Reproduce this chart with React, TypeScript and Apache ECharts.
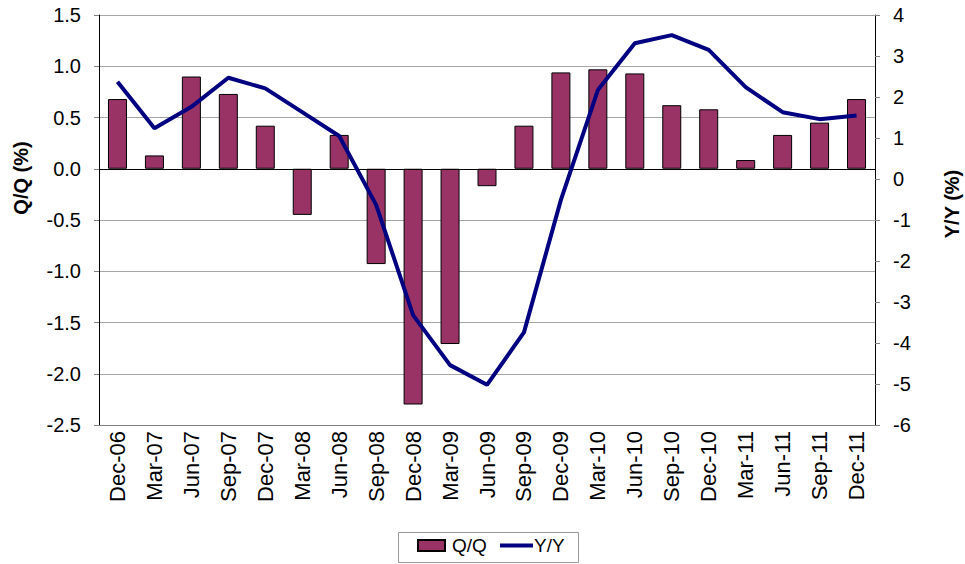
import React, { useEffect, useRef } from "react";
import * as echarts from "echarts";

const categories = [
  "Dec-06", "Mar-07", "Jun-07", "Sep-07", "Dec-07", "Mar-08", "Jun-08", "Sep-08",
  "Dec-08", "Mar-09", "Jun-09", "Sep-09", "Dec-09", "Mar-10", "Jun-10", "Sep-10",
  "Dec-10", "Mar-11", "Jun-11", "Sep-11", "Dec-11",
];
const qqValues = [
  0.68, 0.13, 0.9, 0.73, 0.42, -0.45, 0.33, -0.93, -2.3, -1.71, -0.17, 0.42, 0.94,
  0.97, 0.93, 0.62, 0.58, 0.085, 0.33, 0.45, 0.68,
];
const yyValues = [
  2.37, 1.24, 1.76, 2.47, 2.21, 1.63, 1.05, -0.63, -3.32, -4.54, -5.02, -3.74, -0.51,
  2.17, 3.31, 3.51, 3.15, 2.24, 1.63, 1.46, 1.55,
];
const leftTitle = "Q/Q (%)";
const rightTitle = "Y/Y (%)";

const FONT = "'Liberation Sans', Arial, sans-serif";

export default function App() {
  const ref = useRef<HTMLDivElement>(null);
  useEffect(() => {
    if (!ref.current) return;
    const chart = echarts.init(ref.current, undefined, { renderer: "svg" });
    const legendText = { fontSize: 19, color: "#000", fontFamily: FONT };
    chart.setOption({
      animation: false,
      textStyle: { fontFamily: FONT },
      grid: { left: 99, right: 90, top: 15, bottom: 139, containLabel: false },
      legend: [
        {
          left: 417,
          top: 536,
          padding: 0,
          itemWidth: 27,
          itemHeight: 11,
          itemGap: 0,
          textStyle: { ...legendText, padding: [0, 0, 0, 2] },
          data: [{ name: "Q/Q", icon: "rect" }],
        },
        {
          left: 500,
          top: 536,
          padding: 0,
          itemWidth: 33,
          itemHeight: 4,
          itemGap: 0,
          textStyle: { ...legendText, padding: [0, 0, 0, -4] },
          data: [{ name: "Y/Y", icon: "rect", itemStyle: { color: "#000080", borderWidth: 0 } }],
        },
      ],
      graphic: [
        {
          type: "rect",
          shape: { x: 398.5, y: 532.5, width: 180, height: 30 },
          style: { fill: "none", stroke: "#999", lineWidth: 1 },
          silent: true,
        },
        {
          type: "text",
          x: 21,
          y: 178,
          rotation: Math.PI / 2,
          style: {
            text: leftTitle,
            fontSize: 20,
            fontWeight: "bold",
            fontFamily: FONT,
            fill: "#000",
            align: "center",
            verticalAlign: "middle",
          },
        },
        {
          type: "text",
          x: 952,
          y: 204,
          rotation: Math.PI / 2,
          style: {
            text: rightTitle,
            fontSize: 20,
            fontWeight: "bold",
            fontFamily: FONT,
            fill: "#000",
            align: "center",
            verticalAlign: "middle",
          },
        },
      ],
      xAxis: {
        type: "category",
        data: categories,
        boundaryGap: true,
        axisLine: { onZero: false, lineStyle: { color: "#808080", width: 1 } },
        axisTick: { show: false },
        axisLabel: {
          rotate: 90,
          fontSize: 22,
          color: "#000",
          fontFamily: FONT,
          margin: 6,
          interval: 0,
        },
      },
      yAxis: [
        {
          type: "value",
          min: -2.5,
          max: 1.5,
          interval: 0.5,
          axisLine: { show: true, lineStyle: { color: "#000", width: 1 } },
          axisTick: { show: true, length: 5, lineStyle: { color: "#808080" } },
          axisLabel: {
            fontSize: 20,
            color: "#000",
            fontFamily: FONT,
            margin: 18,
            formatter: (v: number) => v.toFixed(1),
          },
          splitLine: { show: true, lineStyle: { color: "#a6a6a6", width: 1 } },
        },
        {
          type: "value",
          min: -6,
          max: 4,
          interval: 1,
          position: "right",
          axisLine: { show: true, lineStyle: { color: "#000", width: 1 } },
          axisTick: { show: true, length: 5, lineStyle: { color: "#808080" } },
          axisLabel: { fontSize: 20, color: "#000", fontFamily: FONT, margin: 18 },
          splitLine: { show: false },
        },
      ],
      series: [
        {
          name: "Q/Q",
          type: "bar",
          yAxisIndex: 0,
          data: qqValues,
          barWidth: 19,
          itemStyle: { color: "#993366", borderColor: "#000", borderWidth: 1 },
          markLine: {
            silent: true,
            symbol: "none",
            label: { show: false },
            lineStyle: { color: "#000", width: 1, type: "solid" },
            data: [{ yAxis: 0 }],
          },
        },
        {
          name: "Y/Y",
          type: "line",
          yAxisIndex: 1,
          data: yyValues,
          symbol: "none",
          lineStyle: { color: "#000080", width: 4 },
          itemStyle: { color: "#000080" },
          z: 5,
        },
      ],
    });
    return () => chart.dispose();
  }, []);
  return (
    <div
      ref={ref}
      style={{ position: "absolute", left: 0, top: 0, width: 965, height: 564 }}
    />
  );
}
